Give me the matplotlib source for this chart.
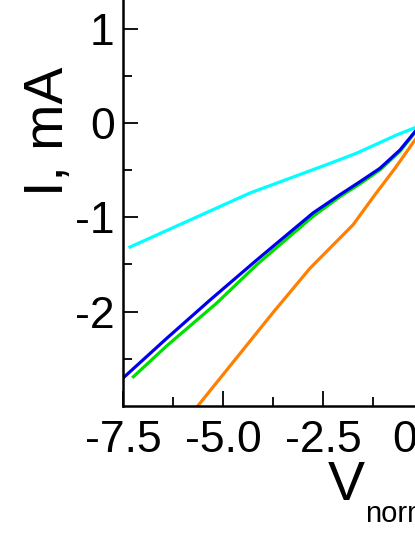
import matplotlib
matplotlib.use("Agg")
import matplotlib.pyplot as plt
from matplotlib.ticker import FixedLocator, FormatStrFormatter

plt.rcParams['font.family'] = ['Liberation Sans', 'DejaVu Sans']
plt.rcParams['axes.unicode_minus'] = False

# Data (V_norm, I in mA)
cyan_v = [-7.325, -4.325, -2.325, -1.65, -0.66, -0.2, 0.0]
cyan_i = [-1.315, -0.742, -0.428, -0.318, -0.127, -0.05, 0.0]

blue_v = [-7.49, -6.4, -5.325, -4.15, -2.75, -2.075, -1.575, -1.075, -0.575, -0.2, 0.0]
blue_i = [-2.70, -2.28, -1.877, -1.45, -0.954, -0.76, -0.622, -0.48, -0.286, -0.092, 0.0]

green_v = [-7.24, -6.4, -5.16, -4.15, -2.75, -2.075, -1.575, -1.075, -0.575, -0.2, 0.0]
green_i = [-2.69, -2.36, -1.91, -1.50, -0.99, -0.78, -0.645, -0.497, -0.30, -0.10, -0.005]

orange_v = [-5.65, -3.75, -2.825, -1.75, -1.2, -0.7, -0.2, 0.0]
orange_i = [-3.01, -2.01, -1.54, -1.08, -0.76, -0.48, -0.18, -0.07]

x_major = [-7.5, -5.0, -2.5, 0.0, 2.5]
x_minor = [-6.25, -3.75, -1.25, 1.25]
y_major = [-2, -1, 0, 1, 2]
y_minor = [-2.5, -1.5, -0.5, 0.5, 1.5]

W, H = 415, 537
fig = plt.figure(figsize=(W / 100, H / 100), dpi=100)
left_px, bottom_px = 123, 406
ax_w_px, ax_h_px = 400, 566
ax = fig.add_axes([left_px / W, (H - bottom_px) / H, ax_w_px / W, ax_h_px / H])

lw = 2.3
ax.plot(cyan_v, cyan_i, color='#00FFFF', lw=lw)
ax.plot(green_v, green_i, color='#00E000', lw=lw)
ax.plot(blue_v, blue_i, color='#0000EE', lw=lw)
ax.plot(orange_v, orange_i, color='#FF7F00', lw=lw)

ax.set_xlim(-7.5, 2.5)
ax.set_ylim(-3, 3)

ax.xaxis.set_major_locator(FixedLocator(x_major))
ax.xaxis.set_minor_locator(FixedLocator(x_minor))
ax.yaxis.set_major_locator(FixedLocator(y_major))
ax.yaxis.set_minor_locator(FixedLocator(y_minor))
ax.xaxis.set_major_formatter(FormatStrFormatter('%.1f'))
ax.yaxis.set_major_formatter(FormatStrFormatter('%d'))

ax.tick_params(which='major', direction='in', length=11, width=1.3,
               labelsize=32, colors='black')
ax.tick_params(which='minor', direction='in', length=6.5, width=1.3)
ax.tick_params(axis='x', which='major', pad=10)
ax.tick_params(axis='y', which='major', pad=6)

for side in ['left', 'bottom', 'top', 'right']:
    ax.spines[side].set_linewidth(1.8)

ax.set_ylabel('I, mA', fontsize=40)
ax.yaxis.set_label_coords((75 - left_px) / ax_w_px, (bottom_px - 131) / ax_h_px)

ax.set_xlabel('V', fontsize=40, ha='left', va='baseline')
ax.xaxis.set_label_coords((328 - left_px) / ax_w_px, (bottom_px - 500) / ax_h_px)
ax.text((365 - left_px) / ax_w_px, (bottom_px - 522) / ax_h_px, 'norm',
        transform=ax.transAxes, fontsize=21, ha='left', va='baseline',
        clip_on=False)

fig.savefig('out.png', dpi=100)
